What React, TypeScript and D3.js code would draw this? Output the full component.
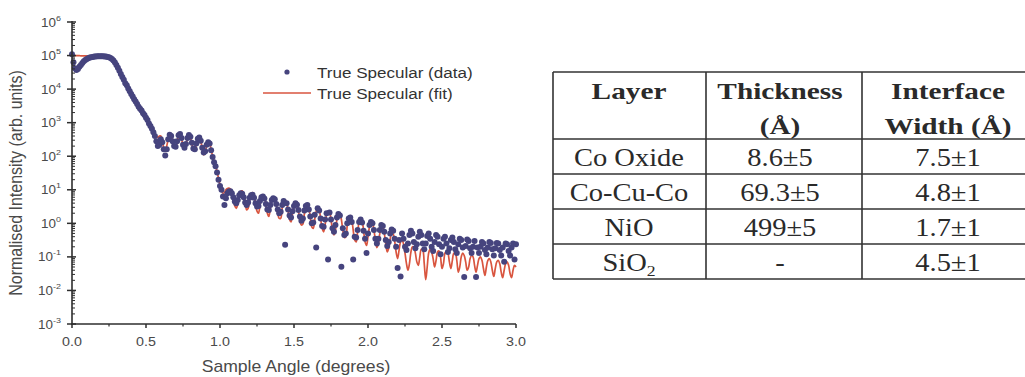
import React from 'react';
import * as d3 from 'd3';

// Reflectivity scan: uniform angular grid, intensities per step.
const ANGLE_START = 0;
const ANGLE_STEP = 0.01;

const dataIntensity = [
  1.1e5, 6.3e4, 4.2e4, 3.7e4, 4.0e4, 4.6e4, 5.2e4, 6.0e4, 6.8e4, 7.4e4,
  7.9e4, 8.3e4, 8.7e4, 8.9e4, 9.1e4, 9.3e4, 9.3e4, 9.5e4, 9.5e4, 9.5e4,
  9.5e4, 9.5e4, 9.3e4, 9.3e4, 9.1e4, 8.9e4, 8.5e4, 7.9e4, 7.1e4, 6.2e4,
  5.2e4, 4.3e4, 3.5e4, 2.8e4, 2.3e4, 1.9e4, 1.5e4, 1.3e4, 1.05e4, 8.7e3,
  7.2e3, 6.0e3, 5.0e3, 4.3e3, 3.6e3, 3.0e3, 2.6e3, 2.3e3, 1.9e3, 1.7e3,
  1.4e3, 1.2e3, 9.5e2, 7.9e2, 6.6e2, 5.2e2, 4.0e2, 2.8e2, 2.0e2, 2.2e2,
  3.2e2, 2.6e2, 1.6e2, 1.05e2, 1.6e2, 3.2e2, 4.4e2, 4.0e2, 2.8e2, 2.0e2,
  1.9e2, 2.8e2, 4.2e2, 4.6e2, 3.5e2, 2.2e2, 1.8e2, 2.3e2, 3.5e2, 4.3e2,
  3.8e2, 2.5e2, 1.7e2, 1.6e2, 2.4e2, 3.3e2, 3.6e2, 2.9e2, 1.8e2, 1.3e2,
  1.4e2, 2.2e2, 2.6e2, 2.4e2, 1.5e2, 95, 66, 50, 33, 20,
  13, 10, 6.3, 3.5, 5.6, 7.9, 8.9, 9.1, 7.9, 6.0,
  4.5, 4.0, 5.0, 6.9, 7.9, 7.6, 6.0, 4.2, 3.5, 4.2,
  5.8, 6.9, 7.1, 5.8, 4.0, 3.2, 3.3, 4.6, 6.0, 6.3,
  5.5, 3.8, 2.6, 2.5, 3.5, 5.0, 5.6, 5.2, 3.8, 2.6,
  2.0, 2.2, 3.5, 4.6, 0.23, 4.0, 2.6, 1.7, 1.5, 2.3,
  3.3, 4.0, 3.6, 2.5, 1.6, 1.2, 1.4, 2.4, 3.3, 3.5,
  2.6, 1.6, 1.0, 1.05, 1.8, 0.19, 2.8, 2.4, 1.4, 0.83,
  0.79, 1.3, 2.0, 0.083, 2.1, 1.3, 0.71, 0.56, 0.89, 1.5,
  1.9, 1.7, 0.051, 0.71, 0.45, 0.5, 1.0, 1.4, 1.5, 1.1,
  0.083, 0.4, 0.38, 0.63, 1.1, 1.3, 1.05, 0.6, 0.35, 0.13,
  0.5, 0.89, 1.1, 1.0, 0.63, 0.35, 0.25, 0.35, 0.63, 0.89,
  0.83, 0.56, 0.32, 0.21, 0.28, 0.5, 0.66, 0.6, 0.35, 0.2,
  0.047, 0.32, 0.026, 0.5, 0.35, 0.2, 0.16, 0.25, 0.45, 0.6,
  0.5, 0.28, 0.18, 0.24, 0.4, 0.56, 0.45, 0.25, 0.17, 0.25,
  0.42, 0.5, 0.35, 0.2, 0.15, 0.28, 0.45, 0.4, 0.24, 0.12,
  0.2, 0.35, 0.4, 0.25, 0.14, 0.18, 0.32, 0.38, 0.28, 0.17,
  0.13, 0.24, 0.35, 0.32, 0.19, 0.025, 0.21, 0.33, 0.3, 0.18,
  0.13, 0.2, 0.3, 0.025, 0.19, 0.13, 0.2, 0.28, 0.25, 0.16,
  0.12, 0.19, 0.28, 0.26, 0.17, 0.11, 0.18, 0.26, 0.25, 0.16,
  0.11, 0.19, 0.072, 0.25, 0.24, 0.15, 0.11, 0.19, 0.25, 0.083,
  0.24,
];

const fitIntensity = [
  1.0e5, 1.0e5, 1.0e5, 1.0e5, 1.0e5, 1.0e5, 9.8e4, 9.8e4, 9.8e4, 9.8e4,
  9.8e4, 9.8e4, 9.5e4, 9.5e4, 9.5e4, 9.5e4, 9.5e4, 9.5e4, 9.5e4, 9.5e4,
  9.5e4, 9.3e4, 9.3e4, 9.1e4, 8.9e4, 8.7e4, 8.3e4, 7.8e4, 7.1e4, 6.3e4,
  5.4e4, 4.4e4, 3.5e4, 2.9e4, 2.3e4, 1.9e4, 1.6e4, 1.3e4, 1.1e4, 9.5e3,
  7.9e3, 6.6e3, 5.6e3, 4.7e3, 4.0e3, 3.3e3, 2.8e3, 2.4e3, 2.0e3, 1.7e3,
  1.5e3, 1.2e3, 1.0e3, 8.1e2, 6.6e2, 5.4e2, 4.5e2, 4.0e2, 3.6e2, 4.0e2,
  4.0e2, 2.8e2, 1.8e2, 1.4e2, 2.0e2, 3.2e2, 4.2e2, 4.0e2, 2.8e2, 1.9e2,
  1.8e2, 2.6e2, 4.0e2, 4.3e2, 3.3e2, 2.1e2, 1.7e2, 2.1e2, 3.3e2, 4.0e2,
  3.5e2, 2.4e2, 1.5e2, 1.5e2, 2.3e2, 3.2e2, 3.5e2, 2.8e2, 1.7e2, 1.1e2,
  1.3e2, 2.1e2, 2.6e2, 2.4e2, 1.6e2, 1.0e2, 71, 52, 35, 22,
  14, 10, 7.9, 8.3, 10, 11, 11.2, 10.5, 7.9, 5.2,
  3.3, 2.8, 3.8, 6.3, 8.9, 9.3, 7.6, 4.5, 2.5, 2.8,
  5.0, 7.6, 8.3, 6.6, 4.0, 2.3, 2.0, 3.5, 6.0, 7.2,
  6.3, 3.8, 2.0, 1.6, 2.8, 4.8, 6.0, 5.8, 3.8, 2.0,
  1.4, 1.4, 2.8, 4.4, 5.0, 4.2, 2.5, 1.3, 1.1, 2.0,
  3.3, 4.0, 3.6, 2.3, 1.2, 0.89, 0.95, 1.9, 3.0, 3.5,
  2.8, 1.6, 0.79, 0.71, 1.3, 2.3, 2.8, 2.5, 1.4, 0.71,
  0.56, 0.89, 1.8, 2.3, 2.2, 1.3, 0.63, 0.45, 0.63, 1.3,
  1.9, 2.0, 1.3, 0.63, 0.38, 0.4, 0.89, 1.4, 1.7, 1.3,
  0.63, 0.32, 0.28, 0.56, 1.1, 1.4, 1.2, 0.63, 0.28, 0.22,
  0.4, 0.79, 1.1, 1.05, 0.63, 0.32, 0.19, 0.25, 0.5, 0.76,
  0.76, 0.5, 0.25, 0.14, 0.18, 0.35, 0.5, 0.48, 0.3, 0.14,
  0.089, 0.16, 0.28, 0.32, 0.24, 0.13, 0.063, 0.04, 0.063, 0.14,
  0.2, 0.19, 0.13, 0.071, 0.056, 0.1, 0.17, 0.16, 0.063, 0.021,
  0.05, 0.13, 0.17, 0.14, 0.089, 0.05, 0.079, 0.14, 0.15, 0.1,
  0.045, 0.063, 0.13, 0.15, 0.13, 0.071, 0.045, 0.079, 0.13, 0.13,
  0.079, 0.035, 0.05, 0.1, 0.13, 0.11, 0.071, 0.04, 0.05, 0.089,
  0.11, 0.1, 0.056, 0.035, 0.056, 0.089, 0.1, 0.079, 0.045, 0.028,
  0.05, 0.079, 0.089, 0.071, 0.04, 0.026, 0.045, 0.071, 0.079, 0.063,
  0.035, 0.024, 0.04, 0.063, 0.071, 0.056, 0.032, 0.024, 0.04, 0.056,
  0.05,
];

const xTickValues = [0, 0.5, 1, 1.5, 2, 2.5, 3];
const xMinorTickValues = [0.25, 0.75, 1.25, 1.75, 2.25, 2.75];
const yDecadeExponents = [-3, -2, -1, 0, 1, 2, 3, 4, 5, 6];
const legendLabels = ['True Specular (data)', 'True Specular (fit)'];

const tableHeaders = [['Layer'], ['Thickness', '(Å)'], ['Interface', 'Width (Å)']];
const layerNames = ['Co Oxide', 'Co-Cu-Co', 'NiO', 'SiO2'];
const layerThickness = ['8.6±5', '69.3±5', '499±5', '-'];
const layerInterfaceWidth = ['7.5±1', '4.8±1', '1.7±1', '4.5±1'];

const SANS = '"Liberation Sans", Arial, sans-serif';
const SERIF = '"Liberation Serif", "Times New Roman", serif';

const W = 1025;
const H = 377;

// plot frame
const PX0 = 72;
const PX1 = 516;
const PY0 = 22;
const PY1 = 324;

// table frame
const TX = [553, 706, 862, 1034];
const TY = [72, 139, 174, 209, 244, 279];
const COL_CENTER = [629, 780, 948];

function SText(props: {
  x: number; y: number; sx?: number; anchor?: string; size: number;
  family: string; weight?: string | number; fill?: string; children: React.ReactNode;
}) {
  const { x, y, sx = 1.1, anchor = 'middle', size, family, weight = 'normal', fill = '#3a3a3a', children } = props;
  return (
    <text
      transform={`translate(${x},${y}) scale(${sx},1)`}
      textAnchor={anchor}
      fontSize={size}
      fontFamily={family}
      fontWeight={weight}
      fill={fill}
    >
      {children}
    </text>
  );
}

// chemical formula: digits become subscripts
function formula(name: string) {
  const parts = name.split(/(\d+)/).filter((p) => p.length > 0);
  return parts.map((p, i) =>
    /^\d+$/.test(p) ? (
      <tspan key={i} fontSize="0.62em" dy="5">{p}</tspan>
    ) : (
      <tspan key={i}>{p}</tspan>
    )
  );
}

export default function App() {
  const x = d3.scaleLinear().domain([0, 3]).range([PX0, PX1]);
  const y = d3.scaleLog().domain([1e-3, 1e6]).range([PY1, PY0]);

  const angle = (i: number) => ANGLE_START + i * ANGLE_STEP;
  const dataPts = dataIntensity.map((v, i) => [angle(i), v] as [number, number]);
  const fitPts = fitIntensity.map((v, i) => [angle(i), v] as [number, number]);

  const line = d3
    .line<[number, number]>()
    .x((d) => x(d[0]))
    .y((d) => y(d[1]))
    .curve(d3.curveCatmullRom.alpha(0.5));

  const minorY: number[] = [];
  yDecadeExponents.slice(0, -1).forEach((e) => {
    for (let m = 2; m <= 9; m++) minorY.push(m * Math.pow(10, e));
  });

  const axisColor = '#2e2e2e';
  const labelColor = '#4a4a4a';
  const dotColor = '#46447e';
  const fitColor = '#d9553f';

  return (
    <svg width={W} height={H} style={{ position: 'absolute', left: 0, top: 0, background: '#fff' }}>
      <rect x={0} y={0} width={W} height={H} fill="#fff" />

      {/* fit curve under the measured points */}
      <path d={line(fitPts) || ''} fill="none" stroke={fitColor} strokeWidth={1.7} strokeLinejoin="round" />
      <g fill={dotColor}>
        {dataPts.map((d, i) => (
          <circle key={i} cx={x(d[0])} cy={y(d[1])} r={3} />
        ))}
      </g>

      {/* y axis */}
      <line x1={PX0} x2={PX0} y1={PY0 - 1} y2={PY1} stroke={axisColor} strokeWidth={1.6} />
      {yDecadeExponents.map((e) => (
        <line key={e} x1={PX0 - 5} x2={PX0 + 4} y1={y(Math.pow(10, e))} y2={y(Math.pow(10, e))} stroke={axisColor} strokeWidth={1.5} />
      ))}
      {minorY.map((v, i) => (
        <line key={i} x1={PX0} x2={PX0 + 3} y1={y(v)} y2={y(v)} stroke={axisColor} strokeWidth={1} />
      ))}
      {yDecadeExponents.map((e) => (
        <text
          key={e}
          transform={`translate(61,${y(Math.pow(10, e)) + 4.5}) scale(1.12,1)`}
          textAnchor="end"
          fontSize={12}
          fontFamily={SANS}
          fill={labelColor}
        >
          10<tspan fontSize={8} dy={-6}>{e}</tspan>
        </text>
      ))}

      {/* x axis */}
      <line x1={PX0 - 1} x2={PX1} y1={PY1} y2={PY1} stroke={axisColor} strokeWidth={1.6} />
      {xTickValues.map((v) => (
        <line key={v} x1={x(v)} x2={x(v)} y1={PY1} y2={PY1 + 4} stroke={axisColor} strokeWidth={1.5} />
      ))}
      {xMinorTickValues.map((v) => (
        <line key={v} x1={x(v)} x2={x(v)} y1={PY1} y2={PY1 + 2.5} stroke={axisColor} strokeWidth={1.2} />
      ))}
      {xTickValues.map((v) => (
        <SText key={v} x={x(v)} y={PY1 + 22} size={13} family={SANS} fill={labelColor}>
          {v.toFixed(1)}
        </SText>
      ))}

      <SText x={(PX0 + PX1) / 2 + 2} y={372} size={16} family={SANS} fill={labelColor}>
        Sample Angle (degrees)
      </SText>
      <text
        transform="translate(22,183) rotate(-90) scale(1,1.1)"
        textAnchor="middle"
        fontSize={16}
        fontFamily={SANS}
        fill={labelColor}
      >
        Normalised Intensity (arb. units)
      </text>

      {/* legend */}
      <circle cx={287} cy={72} r={2.6} fill={dotColor} />
      <SText x={317} y={78} anchor="start" size={15.5} family={SANS} fill="#333">
        {legendLabels[0]}
      </SText>
      <line x1={263} x2={311} y1={93} y2={93} stroke={fitColor} strokeWidth={1.7} />
      <SText x={317} y={98.5} anchor="start" size={15.5} family={SANS} fill="#333">
        {legendLabels[1]}
      </SText>

      {/* layer table */}
      <g stroke="#333" strokeWidth={1.6}>
        {TY.map((ty) => (
          <line key={ty} x1={TX[0]} x2={TX[3]} y1={ty} y2={ty} />
        ))}
        {TX.slice(0, 3).map((tx) => (
          <line key={tx} x1={tx} x2={tx} y1={TY[0]} y2={TY[TY.length - 1]} />
        ))}
      </g>
      {tableHeaders.map((lines, c) =>
        lines.map((t, k) => (
          <SText key={`${c}-${k}`} x={COL_CENTER[c]} y={99 + k * 35} sx={1.22} size={24} family={SERIF} weight="bold" fill="#2a2a2a">
            {t}
          </SText>
        ))
      )}
      {layerNames.map((name, r) => {
        const base = TY[r + 1] + 27;
        return (
          <g key={name}>
            <SText x={COL_CENTER[0]} y={base} sx={1.14} size={25} family={SERIF} fill="#2a2a2a">
              {formula(name)}
            </SText>
            <SText x={COL_CENTER[1]} y={base} sx={1.14} size={25} family={SERIF} fill="#2a2a2a">
              {layerThickness[r]}
            </SText>
            <SText x={COL_CENTER[2]} y={base} sx={1.14} size={25} family={SERIF} fill="#2a2a2a">
              {layerInterfaceWidth[r]}
            </SText>
          </g>
        );
      })}
    </svg>
  );
}
